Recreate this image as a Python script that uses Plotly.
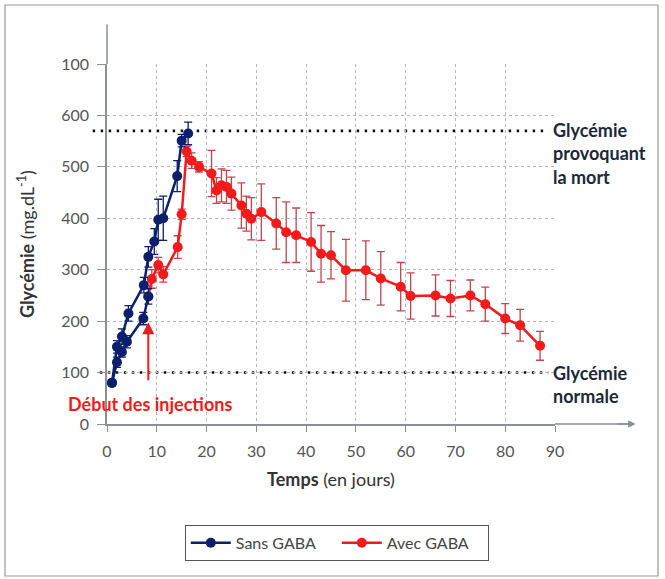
import plotly.graph_objects as go

# ---- data ----
days_sans = [1, 2, 3, 4.3, 7.4, 8.3, 9.5, 10.3, 11.3, 14.1, 15, 16.3]
gly_sans = [80, 150, 170, 215, 270, 325, 355, 397, 400, 482, 551, 565]
err_sans = [5, 12, 15, 15, 15, 20, 25, 40, 43, 30, 12, 22]

days_pre = [1, 2, 3, 4, 7.3, 8.3]
gly_pre = [80, 120, 140, 160, 205, 248]
err_pre = [5, 10, 10, 12, 12, 15]

days_gaba = [8.3, 9, 10.3, 11.3, 14.2, 15, 16, 17, 18.5, 21, 22, 23, 24, 25, 27, 28, 29,
             31, 34, 36, 38, 41, 43, 45, 48, 52, 55, 59, 61, 66, 69, 73, 76, 80, 83, 87]
gly_gaba = [248, 282, 309, 291, 344, 408, 530, 512, 500, 487, 454, 464, 461, 448, 425, 409, 399,
            412, 390, 373, 367, 354, 331, 328, 299, 299, 283, 267, 249, 250, 244, 250, 233, 205, 192, 152]
err_gaba = [0, 18, 15, 15, 22, 10, 10, 15, 10, 45, 25, 32, 32, 32, 44, 34, 41,
            55, 50, 59, 53, 57, 55, 46, 60, 57, 52, 47, 45, 40, 35, 30, 33, 29, 31, 28]

x_ticks = [0, 10, 20, 30, 40, 50, 60, 70, 80, 90]
y_ticks = [0, 100, 200, 300, 400, 500, 600, 700]
y_ticktext = ["0", "100", "200", "300", "400", "500", "600", "100"]

seuil_mort = 570
seuil_normal = 100
debut_injections = 8.3

BLUE = "#0b1f6b"
RED = "#f21b1b"
FONT = "Lato"
AXC = "#8a9196"

fig = go.Figure()

fig.add_trace(go.Scatter(
    x=days_gaba, y=gly_gaba, mode="lines+markers", name="Avec GABA", legendrank=2,
    line=dict(color=RED, width=2.5), marker=dict(color=RED, size=10),
    error_y=dict(type="data", array=err_gaba, color="rgba(185,35,45,0.85)", thickness=1.3, width=4),
))
fig.add_trace(go.Scatter(
    x=days_pre, y=gly_pre, mode="lines+markers", name="Avec GABA (avant)", showlegend=False,
    line=dict(color=BLUE, width=2.5), marker=dict(color=BLUE, size=10),
    error_y=dict(type="data", array=err_pre, color=BLUE, thickness=1.3, width=4),
))
fig.add_trace(go.Scatter(
    x=days_sans, y=gly_sans, mode="lines+markers", name="Sans GABA", legendrank=1,
    line=dict(color=BLUE, width=2.5), marker=dict(color=BLUE, size=10),
    error_y=dict(type="data", array=err_sans, color=BLUE, thickness=1.3, width=4),
))

shapes = []
for v, x0 in [(seuil_mort, -0.032), (seuil_normal, -0.016)]:
    shapes.append(dict(type="line", xref="paper", yref="y", x0=x0, x1=0.985, y0=v, y1=v,
                       line=dict(color="#111111", width=2.6, dash="2.5px,5.5px"), layer="below"))
shapes.append(dict(type="line", xref="paper", yref="paper", x0=1, x1=1.17, y0=0, y1=0,
                   line=dict(color=AXC, width=1.5)))
shapes.append(dict(type="line", xref="paper", yref="paper", x0=0, x1=0, y0=1, y1=1.11,
                   line=dict(color=AXC, width=1.5)))
shapes.append(dict(type="rect", xref="paper", yref="paper",
                   x0=(5 - 107) / 448, x1=(658 - 107) / 448,
                   y0=(424 - 576) / 360, y1=(424 - 5) / 360,
                   line=dict(color="#9a9a9a", width=1.2)))

annotations = [
    dict(xref="paper", yref="y", x=0.99, y=seuil_mort + 26, xanchor="left", yanchor="top",
         text="<b>Glycémie<br>provoquant<br>la mort</b>", showarrow=False, align="left",
         font=dict(family=FONT, size=18, color="#1c2838")),
    dict(xref="paper", yref="y", x=0.99, y=seuil_normal + 25, xanchor="left", yanchor="top",
         text="<b>Glycémie<br>normale</b>", showarrow=False, align="left",
         font=dict(family=FONT, size=18, color="#1c2838")),
    dict(x=debut_injections, y=198, ax=debut_injections, ay=82, xref="x", yref="y",
         axref="x", ayref="y", showarrow=True, arrowhead=2, arrowsize=1.2, arrowwidth=2,
         arrowcolor=RED, text=""),
    dict(x=8.6, y=39, xref="x", yref="y", text="<b>Début des injections</b>",
         showarrow=False, font=dict(family=FONT, size=18, color=RED)),
    dict(xref="paper", yref="paper", x=1.18, y=0, ax=-20, ay=0,
         showarrow=True, arrowhead=2, arrowsize=1, arrowwidth=1.5, arrowcolor=AXC, text=""),
]

fig.update_layout(
    width=665, height=579,
    margin=dict(l=107, r=110, t=64, b=155),
    paper_bgcolor="white", plot_bgcolor="white",
    font=dict(family=FONT, size=15, color="#444444"),
    shapes=shapes, annotations=annotations,
    showlegend=True,
    legend=dict(orientation="h", x=0.513, y=-0.28, xanchor="center", yanchor="top",
                bordercolor="#555555", borderwidth=1, bgcolor="white",
                entrywidth=96, entrywidthmode="pixels",
                font=dict(family=FONT, size=16, color="#444444"), itemwidth=40),
    xaxis=dict(range=[0, 90], tickvals=x_ticks, showgrid=True, gridcolor="#b5b5b5",
               griddash="dot", gridwidth=1, zeroline=False, showline=True, linecolor=AXC,
               linewidth=1.5, ticks="outside", ticklen=6, tickcolor=AXC, ticklabelstandoff=6,
               tickfont=dict(size=16, color="#555555"),
               title=dict(text="<b>Temps</b> (en jours)", font=dict(size=18, color="#333333"), standoff=14)),
    yaxis=dict(range=[0, 700], tickvals=y_ticks, ticktext=y_ticktext, showgrid=True,
               gridcolor="#b5b5b5", griddash="dot", gridwidth=1, zeroline=False, showline=True,
               linecolor=AXC, linewidth=1.5, ticks="outside", ticklen=8, tickcolor=AXC,
               ticklabelstandoff=5, tickfont=dict(size=16, color="#555555"),
               title=dict(text="<b>Glycémie</b> (mg.dL<sup>-1</sup>)", font=dict(size=18, color="#333333"), standoff=22)),
)

fig.write_html("out.html", config={"displayModeBar": False},
               post_script="document.body.style.margin='0px';")
